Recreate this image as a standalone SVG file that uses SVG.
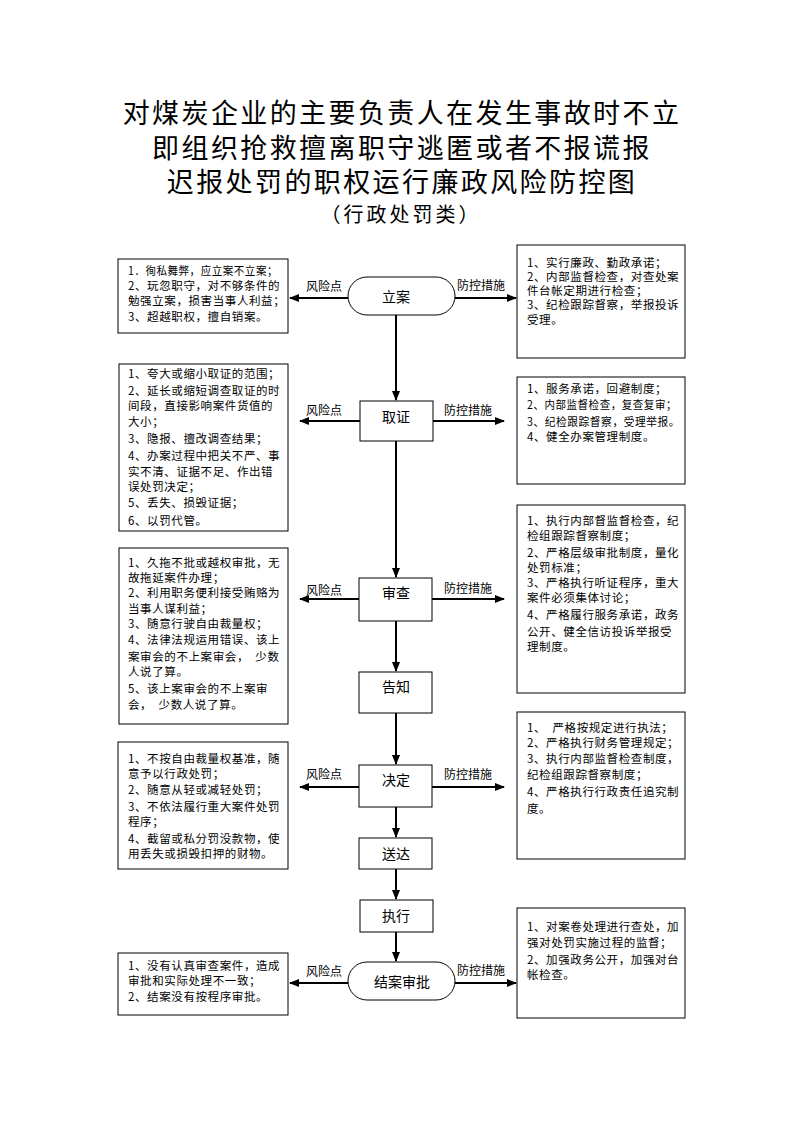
<svg xmlns="http://www.w3.org/2000/svg" width="794" height="1123" viewBox="0 0 794 1123">
<style>
.title{font-family:"Noto Sans CJK SC","Noto Sans",sans-serif;font-size:27px;letter-spacing:2.4px;fill:#000;text-anchor:middle}
.sub{font-family:"Noto Sans CJK SC","Noto Sans",sans-serif;font-size:20px;letter-spacing:3px;fill:#000;text-anchor:middle}
.box{fill:#fff;stroke:#000;stroke-width:1}
.node{fill:#fff;stroke:#000;stroke-width:1}
.nt{font-family:"Noto Sans CJK SC","Noto Sans",sans-serif;font-size:14px;fill:#000;text-anchor:middle}
.bt{font-family:"Noto Sans CJK SC","Noto Sans",sans-serif;font-size:11.5px;fill:#000;letter-spacing:0.6px;white-space:pre}
.lb{font-family:"Noto Sans CJK SC","Noto Sans",sans-serif;font-size:12px;fill:#000;text-anchor:middle}
.ln{stroke:#000;stroke-width:2;fill:none}
</style>
<defs>
<marker id="ah" markerWidth="10" markerHeight="8" refX="9" refY="4" orient="auto" markerUnits="userSpaceOnUse">
<path d="M0,0 L10,4 L0,8 Z" fill="#000"/>
</marker>
</defs>
<rect width="794" height="1123" fill="#fff"/>
<g id="title">
<text class="title"><tspan x="402" y="123">对煤炭企业的主要负责人在发生事故时不立</tspan><tspan x="402" y="158">即组织抢救擅离职守逃匿或者不报谎报</tspan><tspan x="402" y="192">迟报处罚的职权运行廉政风险防控图</tspan></text>
<text class="sub" x="401" y="222">（行政处罚类）</text>
</g>
<g id="connectors">
<line class="ln" x1="396" y1="315" x2="396" y2="400" marker-end="url(#ah)"/>
<line class="ln" x1="396" y1="441" x2="396" y2="577" marker-end="url(#ah)"/>
<line class="ln" x1="396" y1="621" x2="396" y2="671" marker-end="url(#ah)"/>
<line class="ln" x1="396" y1="713" x2="396" y2="764" marker-end="url(#ah)"/>
<line class="ln" x1="396" y1="807" x2="396" y2="837" marker-end="url(#ah)"/>
<line class="ln" x1="396" y1="869" x2="396" y2="899" marker-end="url(#ah)"/>
<line class="ln" x1="396" y1="932" x2="396" y2="961" marker-end="url(#ah)"/>
<line class="ln" x1="348" y1="298" x2="290" y2="298" marker-end="url(#ah)"/>
<line class="ln" x1="455" y1="298" x2="516" y2="298" marker-end="url(#ah)"/>
<line class="ln" x1="360" y1="421" x2="300" y2="421" marker-end="url(#ah)"/>
<line class="ln" x1="433" y1="421" x2="504" y2="421" marker-end="url(#ah)"/>
<line class="ln" x1="359" y1="599" x2="300" y2="599" marker-end="url(#ah)"/>
<line class="ln" x1="432" y1="599" x2="504" y2="599" marker-end="url(#ah)"/>
<line class="ln" x1="359" y1="787" x2="300" y2="787" marker-end="url(#ah)"/>
<line class="ln" x1="432" y1="787" x2="504" y2="787" marker-end="url(#ah)"/>
<line class="ln" x1="348" y1="983" x2="290" y2="983" marker-end="url(#ah)"/>
<line class="ln" x1="455" y1="983" x2="516" y2="983" marker-end="url(#ah)"/>
<text class="lb" x="324" y="291">风险点</text>
<text class="lb" x="481" y="290">防控措施</text>
<text class="lb" x="324" y="415">风险点</text>
<text class="lb" x="468" y="415">防控措施</text>
<text class="lb" x="324" y="595">风险点</text>
<text class="lb" x="468" y="593">防控措施</text>
<text class="lb" x="324" y="779">风险点</text>
<text class="lb" x="468" y="779">防控措施</text>
<text class="lb" x="324" y="976">风险点</text>
<text class="lb" x="481" y="975">防控措施</text>
</g>
<g id="n-lian">
<rect class="node" x="348" y="277" width="107" height="38" rx="19" ry="19"/>
<text class="nt" x="396" y="302">立案</text>
</g>
<g id="n-quzheng">
<rect class="node" x="360" y="401" width="73" height="40"/>
<text class="nt" x="396" y="422">取证</text>
</g>
<g id="n-shencha">
<rect class="node" x="359" y="578" width="73" height="43"/>
<text class="nt" x="396" y="598">审查</text>
</g>
<g id="n-gaozhi">
<rect class="node" x="359" y="672" width="73" height="41"/>
<text class="nt" x="396" y="692">告知</text>
</g>
<g id="n-jueding">
<rect class="node" x="359" y="765" width="73" height="42"/>
<text class="nt" x="396" y="785">决定</text>
</g>
<g id="n-songda">
<rect class="node" x="359" y="838" width="73" height="31"/>
<text class="nt" x="396" y="859">送达</text>
</g>
<g id="n-zhixing">
<rect class="node" x="360" y="900" width="73" height="32"/>
<text class="nt" x="396" y="921">执行</text>
</g>
<g id="n-jiean">
<rect class="node" x="348" y="962" width="107" height="38" rx="19" ry="19"/>
<text class="nt" x="402" y="987">结案审批</text>
</g>
<g id="risk1">
<rect class="box" x="118" y="259" width="170" height="74"/>
<text class="bt" x="128" y="275" textLength="150" lengthAdjust="spacingAndGlyphs">1．徇私舞弊，应立案不立案；</text>
<text class="bt" x="128" y="290">2、玩忽职守，对不够条件的</text>
<text class="bt" x="128" y="305">勉强立案，损害当事人利益；</text>
<text class="bt" x="128" y="321">3、超越职权，擅自销案。</text>
</g>
<g id="ctrl1">
<rect class="box" x="517" y="245" width="168" height="113"/>
<text class="bt" x="527" y="267">1、实行廉政、勤政承诺；</text>
<text class="bt" x="527" y="281">2、内部监督检查，对查处案</text>
<text class="bt" x="527" y="295">件台帐定期进行检查；</text>
<text class="bt" x="527" y="309">3、纪检跟踪督察，举报投诉</text>
<text class="bt" x="527" y="324">受理。</text>
</g>
<g id="risk2">
<rect class="box" x="119" y="364" width="169" height="167"/>
<text class="bt" x="128" y="378">1、夸大或缩小取证的范围；</text>
<text class="bt" x="128" y="395">2、延长或缩短调查取证的时</text>
<text class="bt" x="128" y="410">间段，直接影响案件货值的</text>
<text class="bt" x="128" y="426">大小；</text>
<text class="bt" x="128" y="443">3、隐报、擅改调查结果；</text>
<text class="bt" x="128" y="460">4、办案过程中把关不严、事</text>
<text class="bt" x="128" y="476">实不清、证据不足、作出错</text>
<text class="bt" x="128" y="491">误处罚决定；</text>
<text class="bt" x="128" y="507">5、丢失、损毁证据；</text>
<text class="bt" x="128" y="525">6、以罚代管。</text>
</g>
<g id="ctrl2">
<rect class="box" x="517" y="377" width="168" height="107"/>
<text class="bt" x="527" y="393">1、服务承诺，回避制度；</text>
<text class="bt" x="527" y="409" textLength="150" lengthAdjust="spacingAndGlyphs">2、内部监督检查，复查复审；</text>
<text class="bt" x="527" y="426" textLength="153" lengthAdjust="spacingAndGlyphs">3、纪检跟踪督察，受理举报。</text>
<text class="bt" x="527" y="441">4、健全办案管理制度。</text>
</g>
<g id="ctrl3">
<rect class="box" x="517" y="505" width="168" height="188"/>
<text class="bt" x="527" y="525">1、执行内部督监督检查，纪</text>
<text class="bt" x="527" y="540">检组跟踪督察制度；</text>
<text class="bt" x="527" y="557">2、严格层级审批制度，量化</text>
<text class="bt" x="527" y="572">处罚标准；</text>
<text class="bt" x="527" y="587">3、严格执行听证程序，重大</text>
<text class="bt" x="527" y="602">案件必须集体讨论；</text>
<text class="bt" x="527" y="619">4、严格履行服务承诺，政务</text>
<text class="bt" x="527" y="636">公开、健全信访投诉举报受</text>
<text class="bt" x="527" y="651">理制度。</text>
</g>
<g id="risk3">
<rect class="box" x="119" y="548" width="169" height="176"/>
<text class="bt" x="128" y="567">1、久拖不批或越权审批，无</text>
<text class="bt" x="128" y="582">故拖延案件办理；</text>
<text class="bt" x="128" y="597">2、利用职务便利接受贿赂为</text>
<text class="bt" x="128" y="613">当事人谋利益；</text>
<text class="bt" x="128" y="628">3、随意行驶自由裁量权；</text>
<text class="bt" x="128" y="644">4、法律法规运用错误、该上</text>
<text class="bt" x="128" y="661">案审会的不上案审会，  少数</text>
<text class="bt" x="128" y="676">人说了算。</text>
<text class="bt" x="128" y="693">5、该上案审会的不上案审</text>
<text class="bt" x="128" y="709">会，  少数人说了算。</text>
</g>
<g id="ctrl4">
<rect class="box" x="517" y="712" width="168" height="147"/>
<text class="bt" x="527" y="732">1、  严格按规定进行执法；</text>
<text class="bt" x="527" y="747">2、严格执行财务管理规定；</text>
<text class="bt" x="527" y="763">3、执行内部监督检查制度，</text>
<text class="bt" x="527" y="779">纪检组跟踪督察制度；</text>
<text class="bt" x="527" y="796">4、严格执行行政责任追究制</text>
<text class="bt" x="527" y="813">度。</text>
</g>
<g id="risk4">
<rect class="box" x="118" y="742" width="170" height="127"/>
<text class="bt" x="128" y="763">1、不按自由裁量权基准，随</text>
<text class="bt" x="128" y="778">意予以行政处罚；</text>
<text class="bt" x="128" y="794">2、随意从轻或减轻处罚；</text>
<text class="bt" x="128" y="811">3、不依法履行重大案件处罚</text>
<text class="bt" x="128" y="826">程序；</text>
<text class="bt" x="128" y="843">4、截留或私分罚没款物，使</text>
<text class="bt" x="128" y="858">用丢失或损毁扣押的财物。</text>
</g>
<g id="ctrl5">
<rect class="box" x="517" y="908" width="168" height="110"/>
<text class="bt" x="527" y="931">1、对案卷处理进行查处，加</text>
<text class="bt" x="527" y="947">强对处罚实施过程的监督；</text>
<text class="bt" x="527" y="964">2、加强政务公开，加强对台</text>
<text class="bt" x="527" y="979">帐检查。</text>
</g>
<g id="risk5">
<rect class="box" x="118" y="953" width="170" height="62"/>
<text class="bt" x="128" y="970">1、没有认真审查案件，造成</text>
<text class="bt" x="128" y="985">审批和实际处理不一致；</text>
<text class="bt" x="128" y="1001">2、结案没有按程序审批。</text>
</g>
</svg>
